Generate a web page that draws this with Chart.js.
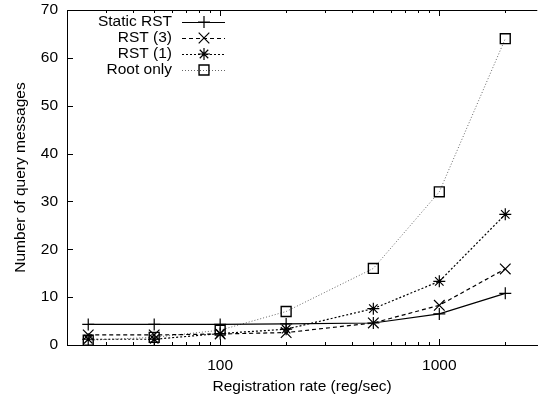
<!DOCTYPE html>
<html lang="en">
<head>
<meta charset="UTF-8">
<title>Query messages vs registration rate</title>
<script src="https://cdn.jsdelivr.net/npm/chart.js"></script>
<style>
    body { margin: 0; padding: 0; background: #fff; }
    .wrap { width: 546px; height: 398px; }
</style>
</head>
<body>
<div class="wrap"><canvas id="chart" width="546" height="398"></canvas></div>
<script>
// Data
const rates = [25, 50, 100, 200, 500, 1000, 2000];
const staticRst = [4.3, 4.3, 4.3, 4.4, 4.6, 6.5, 10.8];
const rst3 = [2.1, 2.1, 2.3, 2.6, 4.6, 8.3, 15.9];
const rst1 = [1.2, 1.2, 2.4, 3.3, 7.6, 13.3, 27.3];
const rootOnly = [1, 1.6, 3.1, 7, 16, 32, 64];

const seriesNames = ['Static RST', 'RST (3)', 'RST (1)', 'Root only'];
const xLabels = [100, 1000];
const xMinor = [20, 30, 40, 50, 60, 70, 80, 90, 100, 200, 300, 400, 500, 600, 700, 800, 900, 1000, 2000];
const yTicks = [0, 10, 20, 30, 40, 50, 60, 70];

const FONT = { family: '"Liberation Sans", Arial, Helvetica, sans-serif', size: 15.5 };

const toPoints = vals => rates.map((r, i) => ({ x: r, y: vals[i] }));

// gnuplot style frame: inward ticks, top border, legend inside plot
const gnuplotFrame = {
    id: 'gnuplotFrame',
    afterDraw(chart) {
        const { ctx, chartArea: a, scales: { x, y } } = chart;
        ctx.save();
        ctx.strokeStyle = '#000';
        ctx.lineWidth = 1;
        ctx.setLineDash([]);
        ctx.beginPath();
        ctx.moveTo(a.left, a.top + 0.5);
        ctx.lineTo(a.right, a.top + 0.5);
        xMinor.forEach(v => {
            const px = Math.round(x.getPixelForValue(v)) + 0.5;
            const len = xLabels.includes(v) ? 6 : 3;
            ctx.moveTo(px, a.bottom);
            ctx.lineTo(px, a.bottom - len);
            ctx.moveTo(px, a.top);
            ctx.lineTo(px, a.top + len);
        });
        yTicks.forEach(v => {
            const py = Math.round(y.getPixelForValue(v)) + 0.5;
            ctx.moveTo(a.left, py);
            ctx.lineTo(a.left + 6, py);
        });
        ctx.stroke();

        // legend
        ctx.font = `${FONT.size}px ${FONT.family}`;
        ctx.textAlign = 'right';
        ctx.textBaseline = 'middle';
        chart.data.datasets.forEach((ds, i) => {
            const ly = 22 + i * 16;
            ctx.fillStyle = '#000';
            ctx.fillText(ds.label, 172, ly);
            ctx.strokeStyle = ds.borderColor;
            ctx.lineWidth = ds.borderWidth;
            ctx.setLineDash(ds.borderDash || []);
            ctx.beginPath();
            ctx.moveTo(182, ly + 0.5);
            ctx.lineTo(225, ly + 0.5);
            ctx.stroke();
            ctx.setLineDash([]);
            ctx.strokeStyle = '#000';
            ctx.fillStyle = 'rgba(0,0,0,0)';
            ctx.lineWidth = ds.pointBorderWidth;
            Chart.helpers.drawPoint(ctx, {
                pointStyle: ds.pointStyle,
                radius: ds.pointRadius,
                borderWidth: ds.pointBorderWidth,
                rotation: 0
            }, 204, ly);
        });
        ctx.restore();
    }
};

new Chart(document.getElementById('chart'), {
    type: 'line',
    data: {
        datasets: [
            {
                label: seriesNames[0], data: toPoints(staticRst),
                borderColor: '#000', borderWidth: 1.2, borderDash: [],
                pointStyle: 'cross', pointRadius: 6, pointBorderWidth: 1.2,
                pointBorderColor: '#000', pointBackgroundColor: 'rgba(0,0,0,0)'
            },
            {
                label: seriesNames[1], data: toPoints(rst3),
                borderColor: '#000', borderWidth: 1.2, borderDash: [4, 3],
                pointStyle: 'crossRot', pointRadius: 7.5, pointBorderWidth: 1.2,
                pointBorderColor: '#000', pointBackgroundColor: 'rgba(0,0,0,0)'
            },
            {
                label: seriesNames[2], data: toPoints(rst1),
                borderColor: '#000', borderWidth: 1.2, borderDash: [2, 2],
                pointStyle: 'star', pointRadius: 6, pointBorderWidth: 1.2,
                pointBorderColor: '#000', pointBackgroundColor: 'rgba(0,0,0,0)'
            },
            {
                label: seriesNames[3], data: toPoints(rootOnly),
                borderColor: '#666', borderWidth: 1, borderDash: [1, 2],
                pointStyle: 'rect', pointRadius: 7, pointBorderWidth: 1.4,
                pointBorderColor: '#000', pointBackgroundColor: 'rgba(0,0,0,0)'
            }
        ]
    },
    options: {
        responsive: false,
        animation: false,
        devicePixelRatio: 1,
        layout: { padding: { top: 10, right: 0, left: 0, bottom: 0 } },
        elements: { line: { tension: 0, fill: false } },
        plugins: {
            legend: { display: false },
            tooltip: { enabled: false }
        },
        scales: {
            x: {
                type: 'logarithmic',
                position: 'bottom',
                min: 20,
                max: 2800,
                grid: { display: false, drawTicks: false },
                border: { display: true, color: '#000', width: 1 },
                afterBuildTicks: s => { s.ticks = xLabels.map(v => ({ value: v })); },
                afterFit: s => { s.height = 53; s.paddingLeft = 0; s.paddingRight = 0; },
                ticks: {
                    color: '#000', font: FONT, padding: 11, maxRotation: 0,
                    callback: v => String(v)
                },
                title: {
                    display: true, text: 'Registration rate (reg/sec)',
                    color: '#000', font: FONT, padding: { top: 4, bottom: 2 }
                }
            },
            y: {
                min: 0,
                max: 70,
                grid: { display: false, drawTicks: false },
                border: { display: true, color: '#000', width: 1 },
                afterBuildTicks: s => { s.ticks = yTicks.map(v => ({ value: v })); },
                afterFit: s => { s.width = 67; s.paddingTop = 0; s.paddingBottom = 0; },
                ticks: { color: '#000', font: FONT, padding: 9 },
                title: {
                    display: true, text: 'Number of query messages',
                    color: '#000', font: FONT, padding: { top: 11, bottom: 4 }
                }
            }
        }
    },
    plugins: [gnuplotFrame]
});
</script>
</body>
</html>
